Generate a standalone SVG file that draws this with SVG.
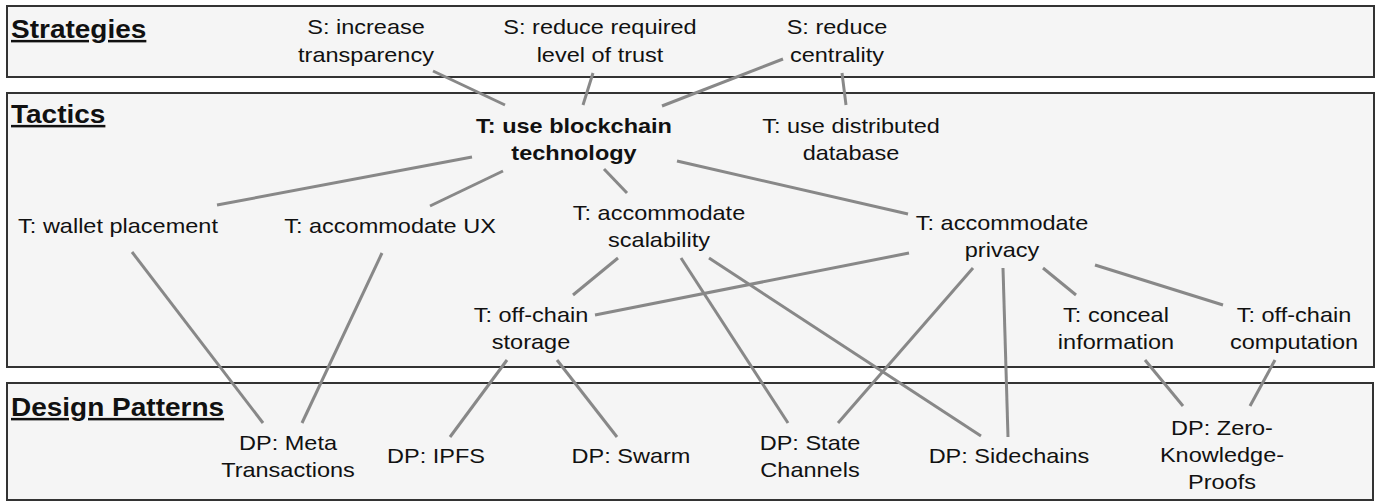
<svg xmlns="http://www.w3.org/2000/svg" width="1379" height="501" viewBox="0 0 1379 501">
<style>
.box{fill:#f5f5f5;stroke:#333;stroke-width:2}
.ttl{font-family:"Liberation Sans",Arial,sans-serif;font-size:25px;font-weight:bold;fill:#111;text-decoration:underline}
.t{font-family:"Liberation Sans",Arial,sans-serif;font-size:21px;fill:#111;text-anchor:middle}
.b{font-weight:bold}
.c line{stroke:#888;stroke-width:3;stroke-linecap:butt}
</style>
<rect width="1379" height="501" fill="#fff"/>
<g id="layers">
<rect class="box" x="7" y="6" width="1367" height="71"/>
<rect class="box" x="7" y="93" width="1367" height="274"/>
<rect class="box" x="7" y="383" width="1366" height="117"/>
<text class="ttl" transform="translate(11,38) scale(1.12,1)">Strategies</text>
<text class="ttl" transform="translate(11,123) scale(1.12,1)">Tactics</text>
<text class="ttl" transform="translate(11,416) scale(1.12,1)">Design Patterns</text>
</g>
<g id="connectors" class="c">
<line x1="433" y1="71" x2="505" y2="105"/>
<line x1="593" y1="73" x2="583" y2="105"/>
<line x1="783" y1="59" x2="662" y2="106"/>
<line x1="842" y1="73" x2="846" y2="105"/>
<line x1="472" y1="157" x2="217" y2="205"/>
<line x1="503" y1="171" x2="430" y2="206"/>
<line x1="604" y1="169" x2="627" y2="193"/>
<line x1="677" y1="161" x2="908" y2="214"/>
<line x1="132" y1="252" x2="263" y2="423"/>
<line x1="382" y1="253" x2="302" y2="423"/>
<line x1="618" y1="258" x2="573" y2="295"/>
<line x1="909" y1="253" x2="595" y2="315"/>
<line x1="681" y1="258" x2="788" y2="423"/>
<line x1="709" y1="258" x2="981" y2="436"/>
<line x1="973" y1="268" x2="838" y2="423"/>
<line x1="1003" y1="268" x2="1008" y2="437"/>
<line x1="1043" y1="268" x2="1076" y2="295"/>
<line x1="1095" y1="265" x2="1223" y2="305"/>
<line x1="507" y1="360" x2="450" y2="437"/>
<line x1="557" y1="360" x2="617" y2="437"/>
<line x1="1145" y1="360" x2="1183" y2="406"/>
<line x1="1275" y1="360" x2="1250" y2="406"/>
</g>
<g id="s-transparency"><text class="t" transform="translate(366,34) scale(1.12,1)"><tspan x="0">S: increase</tspan><tspan x="0" dy="28">transparency</tspan></text></g>
<g id="s-trust"><text class="t" transform="translate(600,34) scale(1.12,1)"><tspan x="0">S: reduce required</tspan><tspan x="0" dy="28">level of trust</tspan></text></g>
<g id="s-centrality"><text class="t" transform="translate(837,34) scale(1.12,1)"><tspan x="0">S: reduce</tspan><tspan x="0" dy="28">centrality</tspan></text></g>
<g id="t-blockchain"><text class="t b" transform="translate(574,133) scale(1.12,1)"><tspan x="0">T: use blockchain</tspan><tspan x="0" dy="27">technology</tspan></text></g>
<g id="t-distdb"><text class="t" transform="translate(851,133) scale(1.12,1)"><tspan x="0">T: use distributed</tspan><tspan x="0" dy="27">database</tspan></text></g>
<g id="t-wallet"><text class="t" transform="translate(118,233) scale(1.12,1)">T: wallet placement</text></g>
<g id="t-ux"><text class="t" transform="translate(390,233) scale(1.12,1)">T: accommodate UX</text></g>
<g id="t-scalability"><text class="t" transform="translate(659,220) scale(1.12,1)"><tspan x="0">T: accommodate</tspan><tspan x="0" dy="27">scalability</tspan></text></g>
<g id="t-privacy"><text class="t" transform="translate(1002,230) scale(1.12,1)"><tspan x="0">T: accommodate</tspan><tspan x="0" dy="27">privacy</tspan></text></g>
<g id="t-offstorage"><text class="t" transform="translate(531,322) scale(1.12,1)"><tspan x="0">T: off-chain</tspan><tspan x="0" dy="27">storage</tspan></text></g>
<g id="t-conceal"><text class="t" transform="translate(1116,322) scale(1.12,1)"><tspan x="0">T: conceal</tspan><tspan x="0" dy="27">information</tspan></text></g>
<g id="t-offcomp"><text class="t" transform="translate(1294,322) scale(1.12,1)"><tspan x="0">T: off-chain</tspan><tspan x="0" dy="27">computation</tspan></text></g>
<g id="dp-meta"><text class="t" transform="translate(288,450) scale(1.12,1)"><tspan x="0">DP: Meta</tspan><tspan x="0" dy="27">Transactions</tspan></text></g>
<g id="dp-ipfs"><text class="t" transform="translate(436,463) scale(1.12,1)">DP: IPFS</text></g>
<g id="dp-swarm"><text class="t" transform="translate(631,463) scale(1.12,1)">DP: Swarm</text></g>
<g id="dp-state"><text class="t" transform="translate(810,450) scale(1.12,1)"><tspan x="0">DP: State</tspan><tspan x="0" dy="27">Channels</tspan></text></g>
<g id="dp-sidechains"><text class="t" transform="translate(1009,463) scale(1.12,1)">DP: Sidechains</text></g>
<g id="dp-zkp"><text class="t" transform="translate(1222,435) scale(1.12,1)"><tspan x="0">DP: Zero-</tspan><tspan x="0" dy="27">Knowledge-</tspan><tspan x="0" dy="27">Proofs</tspan></text></g>
</svg>
